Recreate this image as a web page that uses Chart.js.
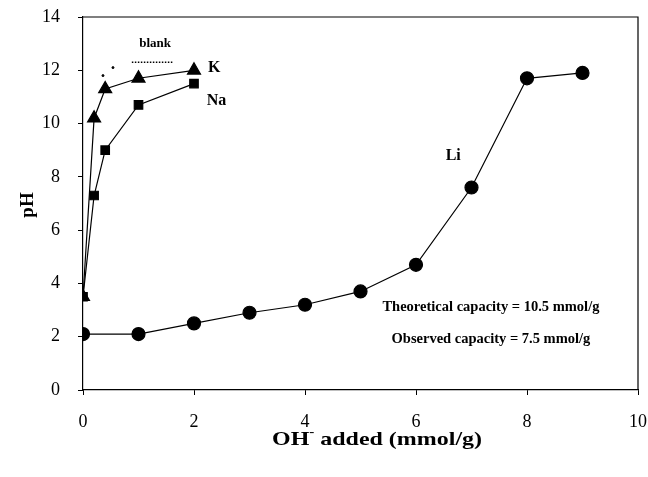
<!DOCTYPE html>
<html>
<head>
<meta charset="utf-8">
<script src="https://cdn.jsdelivr.net/npm/chart.js@4"></script>
<style>
  html, body { margin: 0; padding: 0; background: #fff; }
  #wrap { width: 648px; height: 477px; }
</style>
</head>
<body>
<div id="wrap"><canvas id="chart" width="648" height="477"></canvas></div>
<script>
// OH- added (mmol/g) vs pH
const liX = [0, 1, 2, 3, 4, 5, 6, 7, 8, 9];
const liY = [2.1, 2.1, 2.5, 2.9, 3.2, 3.7, 4.7, 7.6, 11.7, 11.9];
const naX = [0, 0.2, 0.4, 1, 2];
const naY = [3.5, 7.3, 9.0, 10.7, 11.5];
const kX = [0, 0.2, 0.4, 1, 2];
const kY = [3.5, 10.2, 11.3, 11.7, 12.0];
const blankX = [0.88, 1.62];
const blankY = [12.3, 12.3];
const strayX = [0.36, 0.54];
const strayY = [11.8, 12.1];

const xTicks = [0, 2, 4, 6, 8, 10];
const yTicks = [0, 2, 4, 6, 8, 10, 12, 14];

const notes = [
  { x: 1.3, y: 13.0, text: "blank", size: 13, align: "center" },
  { x: 2.25, y: 12.1, text: "K", size: 16, align: "left" },
  { x: 2.23, y: 10.85, text: "Na", size: 16, align: "left" },
  { x: 6.67, y: 8.8, text: "Li", size: 16, align: "center" },
  { x: 7.35, y: 3.1, text: "Theoretical capacity = 10.5 mmol/g", size: 14.5, align: "center" },
  { x: 7.35, y: 1.9, text: "Observed capacity = 7.5 mmol/g", size: 14.5, align: "center" },
];

const pts = (xs, ys) => xs.map((x, i) => ({ x: x, y: ys[i] }));
const serif = "'Liberation Serif', 'Times New Roman', serif";

const textPlugin = {
  id: "texts",
  afterDatasetsDraw(chart) {
    const { ctx, scales, chartArea } = chart;
    ctx.save();
    ctx.fillStyle = "#000";
    ctx.textBaseline = "middle";
    notes.forEach((n) => {
      ctx.font = "bold " + n.size + "px " + serif;
      ctx.textAlign = n.align;
      ctx.fillText(n.text, scales.x.getPixelForValue(n.x), scales.y.getPixelForValue(n.y));
    });
    // frame top/right
    ctx.strokeStyle = "#000";
    ctx.lineWidth = 1.2;
    ctx.beginPath();
    ctx.moveTo(chartArea.left, chartArea.top);
    ctx.lineTo(chartArea.right, chartArea.top);
    ctx.lineTo(chartArea.right, chartArea.bottom);
    ctx.stroke();

    // y title
    ctx.save();
    ctx.translate(28, 205);
    ctx.rotate(-Math.PI / 2);
    ctx.textAlign = "center";
    ctx.font = "bold 19px " + serif;
    ctx.fillText("pH", 0, 0);
    ctx.restore();

    // x title with superscript, stretched to the original width
    const a = "OH", b = " added (mmol/g)";
    ctx.font = "bold 19px " + serif;
    const wa = ctx.measureText(a).width;
    const wb = ctx.measureText(b).width;
    ctx.font = "bold 12px " + serif;
    const ws = ctx.measureText("-").width;
    const total = wa + ws + wb;
    const k = 210 / total;
    ctx.save();
    ctx.translate(272, 440);
    ctx.scale(k, 1);
    ctx.textAlign = "left";
    ctx.font = "bold 19px " + serif;
    ctx.fillText(a, 0, 0);
    ctx.font = "bold 12px " + serif;
    ctx.fillText("-", wa, -7);
    ctx.font = "bold 19px " + serif;
    ctx.fillText(b, wa + ws, 0);
    ctx.restore();
    ctx.restore();
  },
};

const line = (data, style, radius) => ({
  data: data,
  borderColor: "#000",
  backgroundColor: "#000",
  borderWidth: 1.2,
  pointStyle: style,
  pointRadius: radius,
  pointHoverRadius: radius,
  showLine: true,
  tension: 0,
});

new Chart(document.getElementById("chart").getContext("2d"), {
  type: "scatter",
  data: {
    datasets: [
      line(pts(liX, liY), "circle", 6.5),
      line(pts(naX, naY), "rect", 6),
      line(pts(kX, kY), "triangle", 7.5),
      {
        data: pts(blankX, blankY),
        borderColor: "#000",
        borderWidth: 1.5,
        borderDash: [1.5, 1.5],
        pointRadius: 0,
        showLine: true,
      },
      {
        data: pts(strayX, strayY),
        backgroundColor: "#000",
        borderColor: "#000",
        pointRadius: 1,
        showLine: false,
      },
    ],
  },
  plugins: [textPlugin],
  options: {
    responsive: false,
    animation: false,
    layout: { padding: { top: 17, right: 10, left: 0, bottom: 0 } },
    plugins: { legend: { display: false }, tooltip: { enabled: false } },
    scales: {
      x: {
        type: "linear",
        min: 0,
        max: 10,
        afterBuildTicks: (s) => { s.ticks = xTicks.map((v) => ({ value: v })); },
        afterFit: (s) => { s.height = 87; s.paddingLeft = 0; s.paddingRight = 0; },
        grid: { drawOnChartArea: false, tickLength: 5, color: "#000" },
        border: { color: "#000", width: 1.2 },
        ticks: { color: "#000", padding: 16, font: { family: serif, size: 18 } },
      },
      y: {
        type: "linear",
        min: 0,
        max: 14,
        afterBuildTicks: (s) => { s.ticks = yTicks.map((v) => ({ value: v })); },
        afterFit: (s) => { s.width = 83; s.paddingTop = 0; s.paddingBottom = 0; },
        grid: { drawOnChartArea: false, tickLength: 5, color: "#000" },
        border: { color: "#000", width: 1.2 },
        ticks: { color: "#000", padding: 18, font: { family: serif, size: 18 } },
      },
    },
  },
});
</script>
</body>
</html>
